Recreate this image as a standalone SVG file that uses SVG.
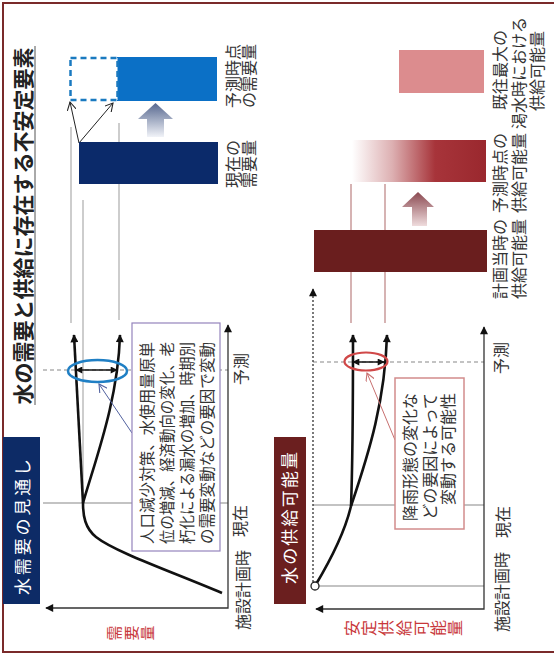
<svg xmlns="http://www.w3.org/2000/svg" width="554" height="656" viewBox="0 0 554 656">
<style>
text{font-family:"Noto Sans CJK JP","Noto Sans CJK SC",sans-serif;}
.lbl{font-size:16px;fill:#333;}
.box{font-size:15.5px;fill:#333;}
.redlbl{fill:#c8373a;}
.hdr{font-size:17px;fill:#fff;}
.ax{stroke:#333;stroke-width:1.3;fill:none;}
.grid{stroke:#888;stroke-width:1.1;fill:none;}
.dash{stroke:#888;stroke-width:1.1;fill:none;stroke-dasharray:4 3;}
.ref{stroke:#bdbdbd;stroke-width:1.5;fill:none;}
.refr{stroke:#c89a9a;stroke-width:1.5;fill:none;}
.curve{stroke:#111;stroke-width:2.6;fill:none;}
</style>
<defs>
<marker id="ah" viewBox="0 0 10 10" refX="9" refY="5" markerWidth="9" markerHeight="8" markerUnits="userSpaceOnUse" orient="auto-start-reverse"><path d="M0,0 L10,5 L0,10 z" fill="#111"/></marker>
<marker id="ahs" viewBox="0 0 10 10" refX="9" refY="5" markerWidth="8" markerHeight="7" markerUnits="userSpaceOnUse" orient="auto-start-reverse"><path d="M0,0 L10,5 L0,10 z" fill="#111"/></marker>
<marker id="open" viewBox="0 0 10 10" refX="9" refY="5" markerWidth="9" markerHeight="9" markerUnits="userSpaceOnUse" orient="auto"><path d="M0,0 L9,5 L0,10" fill="none" stroke="#222" stroke-width="1.2"/></marker>
<marker id="openB" viewBox="0 0 10 10" refX="9" refY="5" markerWidth="9" markerHeight="9" markerUnits="userSpaceOnUse" orient="auto"><path d="M0,0 L9,5 L0,10" fill="none" stroke="#5262a0" stroke-width="1.2"/></marker>
<marker id="openR" viewBox="0 0 10 10" refX="9" refY="5" markerWidth="9" markerHeight="9" markerUnits="userSpaceOnUse" orient="auto"><path d="M0,0 L9,5 L0,10" fill="none" stroke="#c87070" stroke-width="1.2"/></marker>
<linearGradient id="gArrB" x1="0" y1="0" x2="0" y2="1"><stop offset="0" stop-color="#56678f"/><stop offset="1" stop-color="#f1f3f8"/></linearGradient>
<linearGradient id="gArrR" x1="0" y1="0" x2="0" y2="1"><stop offset="0" stop-color="#8a4850"/><stop offset="1" stop-color="#efdcdd"/></linearGradient>
<linearGradient id="gBarR" x1="0" y1="0" x2="1" y2="0"><stop offset="0" stop-color="#ffffff"/><stop offset="0.3" stop-color="#ddb0b2"/><stop offset="0.62" stop-color="#a7343a"/><stop offset="1" stop-color="#9a282e"/></linearGradient>
</defs>

<!-- frame -->
<path d="M556,3 H3 V652 H556" fill="none" stroke="#7a2a2a" stroke-width="2"/>

<g id="title">
<text x="31" y="226" transform="rotate(-90 31 226)" text-anchor="middle" font-size="21" font-weight="bold" fill="#222">水の需要と供給に存在する不安定要素</text>
<line x1="35" y1="405" x2="35" y2="46" stroke="#555" stroke-width="1"/>
</g>

<g id="demand-header">
<rect x="3" y="437" width="37" height="167" fill="#0d2b66"/>
<text class="hdr" x="28.5" y="527" transform="rotate(-90 28.5 527)" text-anchor="middle" textLength="136" lengthAdjust="spacing">水需要の見通し</text>
</g>

<g id="supply-header">
<rect x="274" y="437" width="32" height="167" fill="#6b1f1f"/>
<text class="hdr" x="296" y="518" transform="rotate(-90 296 518)" text-anchor="middle" textLength="132" lengthAdjust="spacing">水の供給可能量</text>
</g>

<!-- demand chart grid / reference lines -->
<g id="demand-grid">
<line class="grid" x1="43" y1="503" x2="228" y2="503"/>
<line class="dash" x1="43" y1="370" x2="228" y2="370"/>
<line class="ref" x1="71" y1="127" x2="71" y2="323"/>
<line class="ref" x1="119" y1="123" x2="119" y2="320"/>
<line class="ref" x1="83" y1="200" x2="83" y2="503"/>
</g>

<g id="supply-grid">
<line class="grid" x1="313" y1="505" x2="484" y2="505"/>
<line class="grid" x1="318" y1="586" x2="484" y2="586"/>
<line class="dash" x1="313" y1="362" x2="484" y2="362"/>
<line class="refr" x1="351" y1="184" x2="351" y2="323"/>
<line class="refr" x1="385" y1="184" x2="385" y2="323"/>
</g>

<g id="demand-axes">
<path class="ax" d="M228,325 V608 H46" marker-start="url(#ah)" marker-end="url(#ah)"/>
<text x="120" y="640.5" font-size="15" letter-spacing="1.5" rotate="-90" class="redlbl">需要量</text>
<text class="lbl" x="249" y="590" transform="rotate(-90 249 590)" text-anchor="middle">施設計画時</text>
<text class="lbl" x="246" y="521" transform="rotate(-90 246 521)" text-anchor="middle">現在</text>
<text class="lbl" x="247" y="369" transform="rotate(-90 247 369)" text-anchor="middle">予測</text>
</g>

<g id="supply-axes">
<path class="ax" d="M484,327 V609 H316" marker-start="url(#ah)" marker-end="url(#ah)"/>
<line x1="313" y1="582" x2="313" y2="289" stroke="#333" stroke-width="1.3" stroke-dasharray="2 2" marker-end="url(#ah)"/>
<text x="358" y="636" font-size="16" letter-spacing="1.2" rotate="-90" class="redlbl">安定供給可能量</text>
<text class="lbl" x="508" y="592" transform="rotate(-90 508 592)" text-anchor="middle">施設計画時</text>
<text class="lbl" x="509" y="522" transform="rotate(-90 509 522)" text-anchor="middle">現在</text>
<text class="lbl" x="507" y="358" transform="rotate(-90 507 358)" text-anchor="middle">予測</text>
</g>

<g id="connectors">
<!-- demand curves -->
<path class="curve" d="M222,593 C170,571 115,552 96,537 C85,528 83,516 83,503"/>
<path class="curve" d="M83,503 L74,335" marker-end="url(#ah)"/>
<path class="curve" d="M83,503 C96,458 118,400 120,335" marker-end="url(#ah)"/>
<!-- supply curves -->
<path class="curve" d="M315,586 C330,561 345,532 351,506"/>
<path class="curve" d="M351,506 C353,455 353,395 353,335" marker-end="url(#ah)"/>
<path class="curve" d="M351,506 C370,450 385,400 387,335" marker-end="url(#ah)"/>
<!-- range arrows -->
<line x1="76" y1="370" x2="117" y2="370" stroke="#111" stroke-width="1.5" marker-start="url(#ahs)" marker-end="url(#ahs)"/>
<line x1="353" y1="362" x2="384" y2="362" stroke="#111" stroke-width="1.5" marker-start="url(#ahs)" marker-end="url(#ahs)"/>
<!-- bar arrows -->
<line x1="79" y1="143" x2="70" y2="102" stroke="#222" stroke-width="1" marker-end="url(#open)"/>
<line x1="79" y1="143" x2="113" y2="103" stroke="#222" stroke-width="1" marker-end="url(#open)"/>
<!-- callout leaders -->
<line x1="132" y1="433" x2="99" y2="384" stroke="#5262a0" stroke-width="1" marker-end="url(#openB)"/>
<line x1="395" y1="440" x2="367" y2="373" stroke="#c87070" stroke-width="1" marker-end="url(#openR)"/>
<!-- big arrows -->
<path d="M147,137 V119 H138 L155.5,103 L173,119 H164 V137 Z" fill="url(#gArrB)"/>
<path d="M412,226 V207 H402 L418,192 L434,207 H427 V226 Z" fill="url(#gArrR)"/>
</g>

<g id="demand-ellipse">
<ellipse cx="97.5" cy="371" rx="29.5" ry="11" fill="none" stroke="#1f7fc4" stroke-width="2.5"/>
</g>
<g id="supply-ellipse">
<ellipse cx="366" cy="361.5" rx="21.5" ry="9" fill="none" stroke="#d04848" stroke-width="2.2"/>
</g>
<g id="start-point">
<circle cx="315" cy="586" r="4" fill="#fff" stroke="#222" stroke-width="1.3"/>
</g>

<g id="demand-callout">
<rect x="132" y="323" width="88" height="228" fill="#fff" stroke="#9484bc" stroke-width="1.2"/>
<text class="box" x="153" y="544" transform="rotate(-90 153 544)" textLength="202" lengthAdjust="spacingAndGlyphs">人口減少対策、水使用量原単</text>
<text class="box" x="173" y="544" transform="rotate(-90 173 544)" textLength="202" lengthAdjust="spacingAndGlyphs">位の増減、経済動向の変化、老</text>
<text class="box" x="193" y="544" transform="rotate(-90 193 544)" textLength="202" lengthAdjust="spacingAndGlyphs">朽化による漏水の増加、時期別</text>
<text class="box" x="213" y="544" transform="rotate(-90 213 544)" textLength="202" lengthAdjust="spacingAndGlyphs">の需要変動などの要因で変動</text>
</g>

<g id="supply-callout">
<rect x="395" y="378" width="69" height="151" fill="#fff" stroke="#d28c8c" stroke-width="1.5"/>
<text class="lbl" font-size="16.5" x="416" y="393" transform="rotate(-90 416 393)" text-anchor="end">降雨形態の変化な</text>
<text class="lbl" font-size="16.5" x="436" y="393" transform="rotate(-90 436 393)" text-anchor="end">どの要因によって</text>
<text class="lbl" font-size="16.5" x="454" y="393" transform="rotate(-90 454 393)" text-anchor="end">変動する可能性</text>
</g>

<g id="bar-current-demand">
<rect x="79" y="142" width="139" height="42" fill="#0b2a6a"/>
<text class="lbl" x="239" y="164" transform="rotate(-90 239 164)" text-anchor="middle">現在の</text>
<text class="lbl" x="255" y="164" transform="rotate(-90 255 164)" text-anchor="middle">需要量</text>
</g>

<g id="bar-forecast-demand">
<rect x="117" y="57" width="100" height="44" fill="#0b70c6"/>
<rect x="70.5" y="58" width="47" height="42" fill="#fff" stroke="#1a7ac0" stroke-width="2.5" stroke-dasharray="6 4"/>
<text class="lbl" x="239" y="76" transform="rotate(-90 239 76)" text-anchor="middle">予測時点</text>
<text class="lbl" x="255" y="76" transform="rotate(-90 255 76)" text-anchor="middle">の需要量</text>
</g>

<g id="bar-plan-supply">
<rect x="314" y="230" width="173" height="42" fill="#6a1e1e"/>
<text class="lbl" x="506" y="259" transform="rotate(-90 506 259)" text-anchor="middle">計画当時の</text>
<text class="lbl" x="525" y="259" transform="rotate(-90 525 259)" text-anchor="middle">供給可能量</text>
</g>

<g id="bar-forecast-supply">
<rect x="352" y="140" width="134" height="42" fill="url(#gBarR)"/>
<text class="lbl" x="506" y="173" transform="rotate(-90 506 173)" text-anchor="middle">予測時点の</text>
<text class="lbl" x="525" y="173" transform="rotate(-90 525 173)" text-anchor="middle">供給可能量</text>
</g>

<g id="bar-drought-supply">
<rect x="399" y="50" width="85" height="43" fill="#dc8c8e"/>
<text class="lbl" x="506" y="70" transform="rotate(-90 506 70)" text-anchor="middle">既往最大の</text>
<text class="lbl" x="525" y="73" transform="rotate(-90 525 73)" text-anchor="middle">渇水時における</text>
<text class="lbl" x="543" y="71" transform="rotate(-90 543 71)" text-anchor="middle">供給可能量</text>
</g>
</svg>
